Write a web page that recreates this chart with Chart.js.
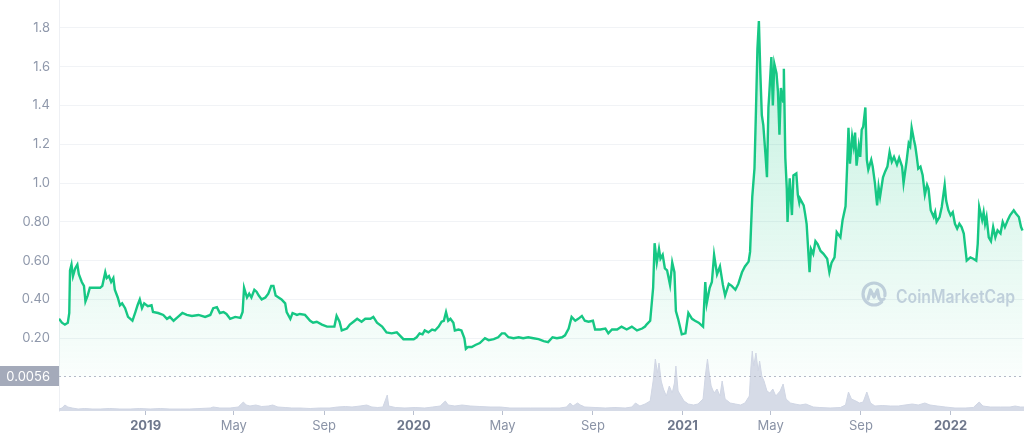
<!DOCTYPE html>
<html><head><meta charset="utf-8">
<script src="https://cdn.jsdelivr.net/npm/chart.js@4/dist/chart.umd.min.js"></script>
<style>html,body{margin:0;padding:0;background:#fff;overflow:hidden}#wrap{width:1024px;height:441px;position:relative}</style>
</head><body><div id="wrap"><canvas id="c" width="1024" height="441"></canvas></div>
<script>
// days since 2018-09-05
const priceDays = [0,4,8,12,14,15,17,19,22,25,27,31,34,36,39,42,47,51,56,59,63,65,68,71,74,76,80,83,86,90,94,100,104,107,110,113,116,121,126,128,135,142,147,151,156,162,168,174,181,190,199,206,210,215,219,224,228,233,240,247,250,252,256,259,262,266,269,272,276,281,285,289,292,295,299,303,308,310,315,318,324,
328,335,342,346,351,358,365,371,375,378,382,385,392,396,401,406,412,417,424,428,433,440,446,453,460,464,469,476,483,487,491,495,498,503,508,512,517,521,524,527,530,533,537,539,544,548,552,554,557,562,567,573,580,585,592,598,603,607,612,619,626,632,639,646,653,660,666,672,678,685,689,694,698,703,707,712,716,721,727,730,737,744,748,753,760,766,773,780,787,794,
798,800,805,809,811,814,817,819,822,825,828,832,835,838,840,843,848,853,857,862,866,871,877,880,882,886,889,892,896,900,904,907,912,916,921,925,930,934,939,941,944,947,949,951,953,955,957,959,962,964,966,967,970,972,974,977,979,981,983,986,987,989,991,992,995,998,1000,1004,1006,1008,1009,
1014,1016,1018,1022,1024,1027,1030,1033,1037,1041,1046,1049,1052,1056,1059,1064,1067,1071,1073,1075,1077,1080,1082,1084,1086,1089,1091,1093,1095,1098,1100,1102,1106,1108,1111,1114,1116,1118,1122,1125,1128,1131,1134,1137,1141,1144,1148,1150,1154,1157,1159,1161,1164,1166,1168,1170,1173,1176,1179,1182,1184,1187,1191,1193,1195,1199,1202,1206,1208,1211,1214,1217,1220,1223,1226,1229,1232,1234,1236,1241,1245,1249,1251,1253,1257,1259,1261,1263,1266,1269,1272,1275,1278,1282,1285,1288,1292,1295,1300,1303,1307,1310,1312];
const prices = [0.30,0.28,0.27,0.28,0.33,0.55,0.58,0.52,0.56,0.58,0.53,0.49,0.47,0.39,0.42,0.46,0.46,0.46,0.46,0.47,0.54,0.51,0.52,0.49,0.51,0.45,0.41,0.37,0.38,0.355,0.31,0.29,0.335,0.37,0.40,0.355,0.38,0.365,0.37,0.335,0.33,0.32,0.30,0.31,0.29,0.31,0.33,0.32,0.315,0.32,0.31,0.32,0.355,0.36,0.33,0.335,0.325,0.30,0.31,0.305,0.335,0.46,0.41,0.43,0.41,0.45,0.44,0.42,0.40,0.41,0.43,0.47,0.47,0.42,0.41,0.40,0.38,0.335,0.30,0.33,0.32,
0.325,0.32,0.29,0.28,0.285,0.27,0.26,0.26,0.26,0.315,0.285,0.24,0.25,0.27,0.285,0.30,0.285,0.30,0.30,0.31,0.28,0.26,0.23,0.225,0.23,0.215,0.195,0.195,0.195,0.205,0.225,0.22,0.24,0.23,0.245,0.24,0.26,0.285,0.29,0.335,0.29,0.30,0.28,0.24,0.245,0.24,0.20,0.145,0.155,0.155,0.165,0.175,0.20,0.19,0.195,0.205,0.225,0.225,0.205,0.20,0.205,0.20,0.205,0.20,0.195,0.185,0.18,0.205,0.20,0.205,0.215,0.25,0.31,0.29,0.30,0.315,0.29,0.285,0.29,0.245,0.245,0.25,0.225,0.245,0.245,0.26,0.245,0.26,0.24,0.25,
0.26,0.27,0.29,0.46,0.69,0.59,0.66,0.61,0.63,0.56,0.55,0.475,0.59,0.54,0.34,0.30,0.22,0.225,0.33,0.30,0.29,0.28,0.26,0.49,0.38,0.46,0.49,0.63,0.53,0.57,0.475,0.42,0.48,0.47,0.45,0.48,0.54,0.57,0.595,0.645,0.93,1.075,1.37,1.69,1.835,1.565,1.35,1.30,1.145,1.03,1.39,1.45,1.65,1.40,1.615,1.565,1.47,1.25,1.49,1.42,1.59,1.13,0.97,0.80,1.025,0.835,1.04,1.05,0.94,0.90,0.92,
0.885,0.84,0.79,0.54,0.66,0.635,0.70,0.685,0.65,0.635,0.61,0.54,0.59,0.617,0.747,0.72,0.81,0.88,1.07,1.285,1.10,1.24,1.19,1.26,1.09,1.19,1.135,1.275,1.29,1.39,1.12,1.07,1.12,1.085,1.00,0.885,0.98,0.93,1.03,1.06,1.085,1.16,1.11,1.135,1.095,1.13,1.085,1.00,1.11,1.205,1.19,1.285,1.225,1.19,1.135,1.075,1.085,1.04,0.94,0.99,0.97,0.86,0.825,0.85,0.80,0.825,0.877,0.99,0.91,0.86,0.834,0.85,0.79,0.765,0.79,0.773,0.74,0.67,0.60,0.617,0.61,0.60,0.687,0.877,0.81,0.85,0.79,0.825,0.72,0.70,0.773,0.72,0.756,0.74,0.80,0.773,0.81,0.834,0.86,0.843,0.825,0.773,0.756];

const volumeDays = [0,4,8,12,18,26,35,45,56,69,83,97,110,124,138,151,165,178,192,206,210,219,233,244,251,255,260,268,276,285,291,298,308,317,328,342,355,369,379,390,399,410,419,426,434,441,447,449,458,471,485,498,509,519,526,530,539,549,560,573,587,601,614,628,642,655,669,682,691,696,700,706,710,716,730,744,757,771,780,785,791,798,805,809,812,815,817,820,823,827,831,835,838,840,843,847,851,857,864,870,877,880,883,885,888,892,896,900,903,907,914,921,928,934,940,942,944,946,949,952,954,957,960,964,968,972,976,982,986,990,996,1002,1009,1017,1027,1036,1050,1064,1071,1075,1079,1085,1090,1095,1100,1105,1111,1121,1132,1143,1152,1162,1170,1179,1186,1196,1207,1220,1234,1245,1253,1258,1268,1282,1295,1302,1309,1314];
// billions USD
const volumes = [1,1.5,3,2,1.5,1,1.25,1,1,1.25,1,1,1.25,1,1.25,1,1,1,1.25,1.5,2,1.5,1.5,2,4.5,3,2.5,3,2.25,2.5,3,2,1.75,1.5,1.5,1.25,1.5,1.5,2,2.25,2,2.5,3,2,1.75,2,8,2.5,1.75,1.5,1.75,1.5,2,2.5,5,3,2.5,3,2.5,2.25,2,2,1.5,1.5,1.5,1.5,1.5,1.5,2,4,2.5,4,3,2,1.75,1.5,1.75,1.5,2,4,2.5,3.5,5,15,26,19,24,15,11,7.5,12.5,9,14,22.5,10,7.5,5,3.5,3,3.5,6,17.5,26,20,12.5,9,11,7.5,15,6,4,3.5,3,4,7.5,21,30,22.5,29,20,25,17.5,15,10,9,11,7.5,10,13.5,6,4,3.5,3,3.5,2,1.75,1.5,1.75,3,9.5,6,5,4,4.5,9.5,4,2.5,2.75,2.5,2.5,3,3.5,3,4,3,2.5,2,1.5,1.5,1.75,4.5,2.5,2,2,2,2.5,2,2];

const xTickDays = [118,238,361,483,604,727,849,969,1092,1214];
const xTickLabels = ['2019','May','Sep','2020','May','Sep','2021','May','Sep','2022'];
const yTickValues = [0.2,0.4,0.6,0.8,1.0,1.2,1.4,1.6,1.8];
const yTickLabels = ['0.20','0.40','0.60','0.80','1.0','1.2','1.4','1.6','1.8'];
const refPrice = 0.0056;
const refLabel = '0.0056';
const watermarkText = 'CoinMarketCap';

const GREEN = '#16c784';
const FONT = 'Inter, "Noto Sans", sans-serif';

const priceData = priceDays.map((d, i) => ({x: d, y: prices[i]}));
const volumeData = volumeDays.map((d, i) => ({x: d, y: volumes[i]}));

const watermarkPlugin = {
  id: 'watermark',
  beforeDatasetsDraw(chart) {
    const c = chart.ctx;
    c.save();
    const col = '#cdd0e2';
    c.strokeStyle = col; c.lineWidth = 3.2; c.lineCap = 'round'; c.lineJoin = 'round';
    const cx = 874, cy = 294, r = 11;
    c.beginPath();
    c.arc(cx, cy, r, 0.25 * Math.PI, 2.05 * Math.PI, false);
    c.stroke();
    c.beginPath();
    c.moveTo(cx - 6, cy + 5);
    c.lineTo(cx - 3.5, cy - 4);
    c.lineTo(cx, cy + 3);
    c.lineTo(cx + 3.5, cy - 4);
    c.lineTo(cx + 5, cy + 4);
    c.quadraticCurveTo(cx + 7, cy + 7, cx + 10, cy + 5);
    c.stroke();
    c.fillStyle = col;
    c.font = '600 18px ' + FONT;
    c.textBaseline = 'alphabetic';
    const w = c.measureText(watermarkText).width;
    const target = 119;
    c.translate(896, 302.5);
    c.scale(target / w, 1);
    c.fillText(watermarkText, 0, 0);
    c.restore();
  }
};

const refPlugin = {
  id: 'refLine',
  afterDatasetsDraw(chart) {
    const {ctx, chartArea, scales} = chart;
    const py = Math.round(scales.y.getPixelForValue(refPrice)) + 0.5;
    ctx.save();
    ctx.strokeStyle = '#b4bac8';
    ctx.lineWidth = 1;
    ctx.setLineDash([2, 3]);
    ctx.beginPath(); ctx.moveTo(chartArea.left, py); ctx.lineTo(chartArea.right, py); ctx.stroke();
    ctx.setLineDash([]);
    ctx.fillStyle = '#a4aaba';
    ctx.fillRect(0, py - 10.5, chartArea.left, 20);
    ctx.fillStyle = '#ffffff';
    ctx.font = '13px ' + FONT;
    ctx.textAlign = 'right';
    ctx.textBaseline = 'middle';
    ctx.fillText(refLabel, chartArea.left - 9, py + 0.5);
    ctx.restore();
  }
};

new Chart(document.getElementById('c'), {
  type: 'line',
  data: {
    datasets: [
      {
        label: 'Volume',
        data: volumeData,
        yAxisID: 'yv',
        borderColor: '#d0d6e4',
        borderWidth: 1,
        backgroundColor: '#d6dbe7',
        fill: 'origin',
        pointRadius: 0,
        tension: 0,
        order: 0
      },
      {
        label: 'Price',
        data: priceData,
        yAxisID: 'y',
        borderColor: GREEN,
        borderWidth: 2.4,
        pointRadius: 0,
        tension: 0,
        fill: 'origin',
        order: 1,
        backgroundColor: (ctx) => {
          const chart = ctx.chart;
          if (!chart.chartArea) return 'rgba(22,199,132,0.1)';
          const y = chart.scales.y;
          const g = chart.ctx.createLinearGradient(0, y.getPixelForValue(Math.max(...prices)), 0, y.getPixelForValue(0));
          g.addColorStop(0, 'rgba(22,199,132,0.27)');
          g.addColorStop(1, 'rgba(22,199,132,0.02)');
          return g;
        }
      }
    ]
  },
  options: {
    responsive: false,
    animation: false,
    events: [],
    layout: {padding: 0},
    plugins: {legend: {display: false}, tooltip: {enabled: false}},
    scales: {
      x: {
        type: 'linear',
        min: 0,
        max: 1314,
        afterBuildTicks: (s) => { s.ticks = xTickDays.map(v => ({value: v})); },
        afterFit: (s) => { s.height = 30; s.paddingLeft = 0; s.paddingRight = 0; },
        ticks: {
          autoSkip: false,
          maxRotation: 0,
          padding: 3,
          callback: (v) => xTickLabels[xTickDays.indexOf(v)],
          color: (ctx) => /^\d{4}$/.test(xTickLabels[ctx.index]) ? '#6f788c' : '#8a93a6',
          font: (ctx) => ({family: FONT, size: 13, weight: /^\d{4}$/.test(xTickLabels[ctx.index]) ? '700' : '400'})
        },
        grid: {drawOnChartArea: false, drawTicks: true, tickLength: 4, color: '#b9c0cf'},
        border: {display: false}
      },
      y: {
        position: 'left',
        min: -0.1753,
        max: 1.944,
        afterBuildTicks: (s) => { s.ticks = yTickValues.map(v => ({value: v})); },
        afterFit: (s) => { s.width = 59; s.paddingTop = 0; s.paddingBottom = 0; },
        ticks: {
          padding: 9,
          color: '#8f98ab',
          font: {family: FONT, size: 13},
          callback: (v) => yTickLabels[yTickValues.findIndex(t => Math.abs(t - v) < 1e-6)]
        },
        grid: {color: '#f1f3f6', drawTicks: false},
        border: {color: '#eef0f4'}
      },
      yv: {
        display: false,
        min: 0,
        max: 205.5
      }
    }
  },
  plugins: [watermarkPlugin, refPlugin]
});
</script>
</body></html>
